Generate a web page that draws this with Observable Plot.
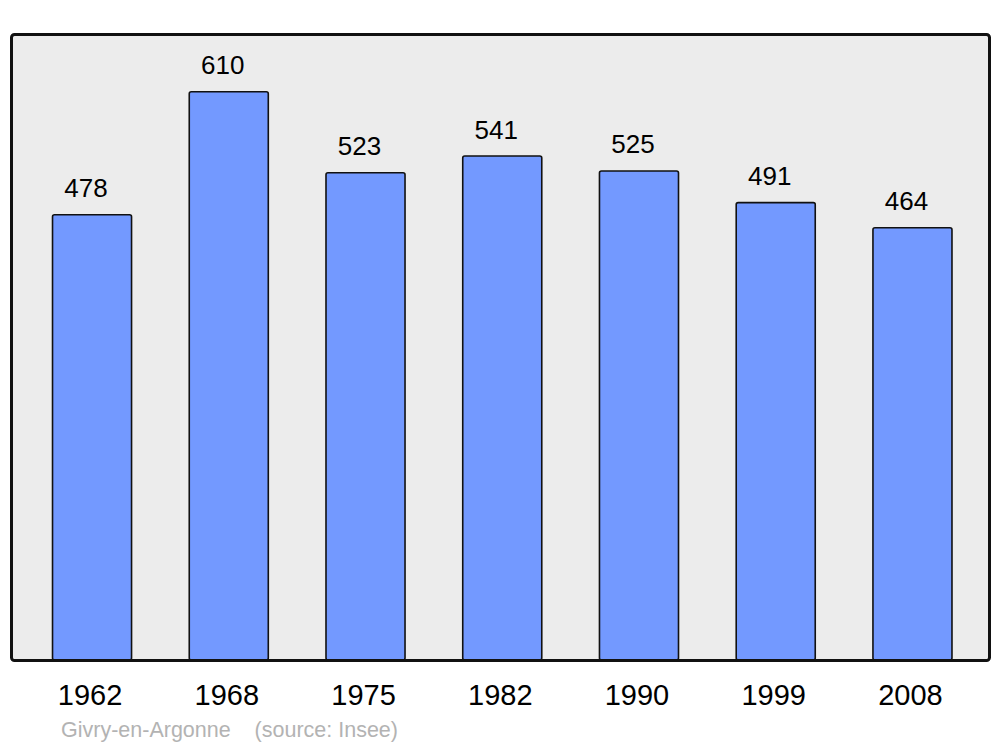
<!DOCTYPE html>
<html>
<head>
<meta charset="utf-8">
<script src="https://cdn.jsdelivr.net/npm/d3@7"></script>
<script src="https://cdn.jsdelivr.net/npm/@observablehq/plot@0.6"></script>
<style>
  html, body { margin: 0; padding: 0; background: #fff; }
  #wrap { position: relative; width: 1000px; height: 747px; font-family: "Liberation Sans", Arial, sans-serif; }
  #caption { position: absolute; left: 61px; top: 718px; font-size: 21.5px; line-height: 24px; color: #b3b3b3; white-space: pre; }
</style>
</head>
<body>
<div id="wrap"><div id="chart"></div><div id="caption">Givry-en-Argonne    (source: Insee)</div></div>
<script>
const years = ["1962", "1968", "1975", "1982", "1990", "1999", "2008"];
const population = [478, 610, 523, 541, 525, 491, 464];

const data = years.map((y, i) => ({year: y, pop: population[i]}));

const chart = Plot.plot({
  width: 1000,
  height: 747,
  marginLeft: 11,
  marginRight: 11,
  marginTop: 34,
  marginBottom: 87,
  style: {fontFamily: "'Liberation Sans', Arial, sans-serif", background: "transparent", overflow: "visible"},
  x: {domain: years, range: [11.5, 993], paddingInner: 0.422, paddingOuter: 0.3, align: 0.5, round: false, label: null},
  y: {domain: [0, 672], axis: null},
  marks: [
    Plot.frame({fill: "#ececec", stroke: "none", rx: 3}),
    Plot.barY(data, {x: "year", y: "pop", fill: "#7399ff", stroke: "#111", strokeWidth: 1.6, rx: 2}),
    Plot.text(data, {x: "year", y: "pop", text: d => String(d.pop), lineAnchor: "bottom", dy: -18, dx: -6.5, fontSize: 26, fill: "#000"}),
    Plot.frame({fill: "none", stroke: "#111", strokeWidth: 3, rx: 3}),
    Plot.axisX({tickSize: 0, tickPadding: 24, dx: -2.5, fontSize: 29, label: null, fill: "#000"})
  ]
});
document.getElementById("chart").appendChild(chart);
</script>
</body>
</html>
